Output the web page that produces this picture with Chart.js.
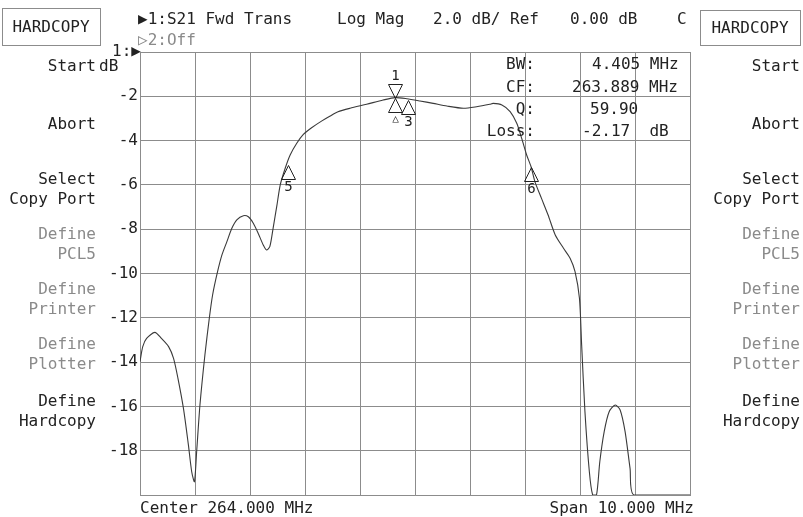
<!DOCTYPE html>
<html>
<head>
<meta charset="utf-8">
<script src="https://cdn.jsdelivr.net/npm/chart.js@4/dist/chart.umd.min.js"></script>
<style>
  html, body { margin: 0; padding: 0; background: #fff; }
  #wrap { position: relative; width: 803px; height: 517px; overflow: hidden; }
  #plot { position: absolute; left: 0; top: 0; }
  .t { position: absolute; font-family: "DejaVu Sans Mono", monospace; font-size: 16px;
       line-height: 16px; white-space: pre; color: #222; }
  .dim { color: #8a8a8a; }
  .box { position: absolute; border: 1px solid #8c8c8c; box-sizing: border-box; }
</style>
</head>
<body>
<div id="wrap">
  <canvas id="plot" width="803" height="517"></canvas>
</div>
<script>
// S21 trace, frequency in MHz / magnitude in dB
const freqMHz = [
  259.00, 259.05, 259.12, 259.27, 259.39, 259.52, 259.61, 259.69, 259.79, 259.88,
  259.94, 259.99, 260.03, 260.09, 260.18, 260.26, 260.32, 260.41, 260.49, 260.58,
  260.67, 260.76, 260.88, 260.97, 261.06, 261.15, 261.24, 261.30, 261.36, 261.42,
  261.49, 261.55, 261.64, 261.73, 261.85, 261.97, 262.12, 262.30, 262.45, 262.60,
  262.82, 263.12, 263.42, 263.64, 263.85, 264.09, 264.33, 264.58, 264.88, 265.12,
  265.36, 265.42, 265.58, 265.73, 265.85, 265.94, 266.03, 266.11, 266.18, 266.30,
  266.42, 266.55, 266.70, 266.82, 266.91, 266.99, 267.03, 267.09, 267.17, 267.23,
  267.30, 267.36, 267.44, 267.53, 267.64, 267.73, 267.82, 267.91, 267.98, 269.00
];
const s21dB = [
  -13.98, -13.30, -12.93, -12.66, -12.93, -13.30, -13.83, -14.73, -16.09, -17.74,
  -18.95, -19.40, -18.05, -15.94, -13.68, -12.02, -10.97, -9.92, -9.16, -8.56,
  -7.96, -7.58, -7.39, -7.44, -7.73, -8.19, -8.71, -8.94, -8.79, -7.96,
  -6.91, -6.00, -5.25, -4.65, -4.12, -3.72, -3.42, -3.12, -2.90, -2.70,
  -2.54, -2.36, -2.17, -2.06, -2.11, -2.21, -2.32, -2.44, -2.54, -2.47,
  -2.36, -2.32, -2.39, -2.69, -3.22, -3.90, -4.65, -5.18, -5.85, -6.61,
  -7.36, -8.26, -8.86, -9.31, -9.92, -11.12, -13.23, -16.24, -18.95, -20.00,
  -20.00, -18.50, -17.14, -16.24, -15.94, -16.16, -17.14, -18.80, -20.00, -20.00
];

// markers
const markerFreq = [263.64, 263.64, 263.87, 261.69, 266.11];
const markerDb = [-2.06, -2.06, -2.17, -5.10, -5.18];
const markerLabel = ['1', '\u25B3', '3', '5', '6'];
const markerActive = [true, false, false, false, false];

// axis
const freqMin = 259, freqMax = 269;
const dbMin = -20, dbMax = 0, dbStep = 2;

const gridColor = '#8c8c8c';
const monoFont = '"DejaVu Sans Mono", monospace';

// markers drawn on top of the trace
const markerPlugin = {
  id: 'markers',
  afterDatasetsDraw(chart) {
    const ctx = chart.ctx;
    const xs = chart.scales.x, ys = chart.scales.y;
    ctx.save();
    ctx.strokeStyle = '#222';
    ctx.fillStyle = '#222';
    ctx.lineWidth = 1;
    ctx.textAlign = 'center';
    ctx.textBaseline = 'middle';
    markerFreq.forEach((f, i) => {
      const px = Math.round(xs.getPixelForValue(f)) + 0.5;
      const py = Math.round(ys.getPixelForValue(markerDb[i])) + 0.5;
      const dir = markerActive[i] ? -1 : 1;
      ctx.beginPath();
      ctx.moveTo(px, py);
      ctx.lineTo(px - 7, py + dir * 14);
      ctx.lineTo(px + 7, py + dir * 14);
      ctx.closePath();
      ctx.stroke();
      const small = markerLabel[i] === '\u25B3';
      ctx.font = (small ? '11px ' : '14px ') + monoFont;
      ctx.fillText(markerLabel[i], px, py + dir * (small ? 21 : 22));
    });
    ctx.restore();
  }
};

const chart = new Chart(document.getElementById('plot').getContext('2d'), {
  type: 'line',
  data: {
    datasets: [{
      data: freqMHz.map((f, i) => ({ x: f, y: s21dB[i] })),
      borderColor: '#3a3a3a',
      borderWidth: 1.1,
      pointRadius: 0,
      tension: 0.25,
      fill: false
    }]
  },
  options: {
    responsive: false,
    devicePixelRatio: 1,
    animation: false,
    layout: { padding: { left: 100, top: 52, right: 113, bottom: 0 } },
    plugins: { legend: { display: false }, tooltip: { enabled: false } },
    scales: {
      x: {
        type: 'linear',
        min: freqMin,
        max: freqMax,
        ticks: { stepSize: 1, display: false },
        grid: { color: gridColor, drawTicks: false },
        border: { color: gridColor },
        afterFit: (scale) => { scale.height = 22; }
      },
      y: {
        min: dbMin,
        max: dbMax,
        ticks: {
          stepSize: dbStep,
          padding: 2,
          color: '#222',
          font: { family: monoFont, size: 16 },
          callback: (v) => (v === dbMin || v === dbMax) ? '' : String(v)
        },
        grid: { color: gridColor, drawTicks: false },
        border: { color: gridColor },
        afterFit: (scale) => { scale.width = 40; }
      }
    }
  },
  plugins: [markerPlugin]
});

// screen text around the graticule
const wrap = document.getElementById('wrap');
function addText(str, x, yMid, opts = {}) {
  const d = document.createElement('div');
  d.className = 't' + (opts.dim ? ' dim' : '');
  d.textContent = str;
  d.style.top = (yMid - 8) + 'px';
  if (opts.right !== undefined) {
    d.style.left = (opts.right - 200) + 'px';
    d.style.width = '200px';
    d.style.textAlign = 'right';
  } else if (opts.center !== undefined) {
    d.style.left = (opts.center - 100) + 'px';
    d.style.width = '200px';
    d.style.textAlign = 'center';
  } else {
    d.style.left = x + 'px';
  }
  wrap.appendChild(d);
}
function addBox(x, y, w, h) {
  const b = document.createElement('div');
  b.className = 'box';
  Object.assign(b.style, { left: x + 'px', top: y + 'px', width: w + 'px', height: h + 'px' });
  wrap.appendChild(b);
}

addBox(2, 8, 99, 38);
addText('HARDCOPY', 0, 27, { center: 51 });
addBox(700, 10, 101, 36);
addText('HARDCOPY', 0, 28, { center: 750 });

addText('\u25B61:S21 Fwd Trans', 138, 19);
addText('Log Mag', 337, 19);
addText('2.0 dB/ Ref', 433, 19);
addText('0.00 dB', 570, 19);
addText('C', 677, 19);
addText('\u25B72:Off', 138, 40, { dim: true });

addText('1:\u25B6', 0, 51, { right: 141 });
addText('dB', 99, 66);

const softkeys = [
  ['Start', 66, false], ['Abort', 124, false],
  ['Select', 179, false], ['Copy Port', 199, false],
  ['Define', 234, true], ['PCL5', 254, true],
  ['Define', 289, true], ['Printer', 309, true],
  ['Define', 344, true], ['Plotter', 364, true],
  ['Define', 401, false], ['Hardcopy', 421, false]
];
softkeys.forEach(([s, y, dim]) => {
  addText(s, 0, y, { right: 96, dim });
  addText(s, 0, y, { right: 800, dim });
});

addText('BW:', 0, 64, { right: 535 });
addText('CF:', 0, 87, { right: 535 });
addText('Q:', 0, 109, { right: 535 });
addText('Loss:', 0, 131, { right: 535 });
addText('4.405 MHz', 592, 64);
addText('263.889 MHz', 572, 87);
addText('59.90', 590, 109);
addText('-2.17  dB', 582, 131);

addText('Center 264.000 MHz', 140, 508);
addText('Span 10.000 MHz', 0, 508, { right: 694 });
</script>
</body>
</html>
